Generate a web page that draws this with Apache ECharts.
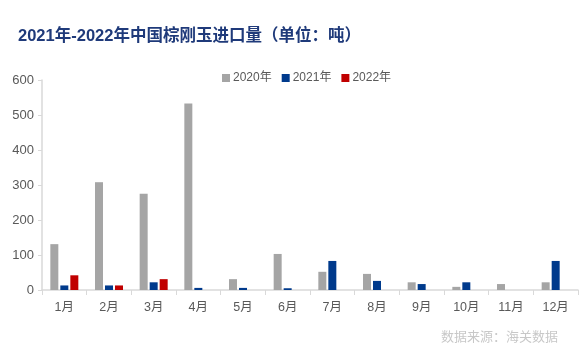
<!DOCTYPE html>
<html>
<head>
<meta charset="utf-8">
<style>
  html, body { margin: 0; padding: 0; background: #fff; }
  #chart { width: 588px; height: 351px; }
</style>
<script src="https://cdn.jsdelivr.net/npm/echarts@6/dist/echarts.min.js"></script>
</head>
<body>
<div id="chart"></div>
<script>
// 月份
const months = ['1月', '2月', '3月', '4月', '5月', '6月', '7月', '8月', '9月', '10月', '11月', '12月']
// 进口量（吨）
const data2020 = [131, 308, 275, 533, 31, 103, 52, 46, 22, 9, 17, 22]
const data2021 = [13, 13, 22, 6, 6, 5, 83, 26, 17, 22, 0, 83]
const data2022 = [42, 13, 31, null, null, null, null, null, null, null, null, null]
const yTicks = [0, 100, 200, 300, 400, 500, 600]

const labelFont = 'Arial, "Liberation Sans", "Noto Sans CJK SC", sans-serif'

let myChart = echarts.init(document.getElementById('chart'))
let option = {
  animation: false,
  title: [
    {
      text: '2021年-2022年中国棕刚玉进口量（单位：吨）',
      left: 13,
      top: 23,
      textStyle: { color: '#1F3A7A', fontSize: 16.5, fontWeight: 'bold', fontFamily: labelFont },
    },
    {
      text: '数据来源：海关数据',
      right: 25,
      top: 326,
      textStyle: { color: '#C8C8C8', fontSize: 13, fontWeight: 'normal', fontFamily: labelFont },
    },
  ],
  legend: {
    top: 67,
    left: 217,
    itemWidth: 8,
    itemHeight: 8,
    itemGap: 10,
    icon: 'rect',
    textStyle: { color: '#595959', fontSize: 12, fontFamily: labelFont, padding: [0, 0, 0, -2] },
    data: ['2020年', '2021年', '2022年'],
  },
  grid: { left: 42, right: 10, top: 80, bottom: 61 },
  xAxis: {
    type: 'category',
    data: months,
    axisLine: { lineStyle: { color: '#D9D9D9', width: 1.5 } },
    axisTick: { show: true, length: 5, lineStyle: { color: '#D9D9D9' } },
    axisLabel: { color: '#595959', fontSize: 12.5, margin: 11, fontFamily: labelFont },
  },
  yAxis: {
    type: 'value',
    min: yTicks[0],
    max: yTicks[yTicks.length - 1],
    interval: 100,
    splitLine: { show: false },
    axisLine: { show: true, lineStyle: { color: '#D9D9D9', width: 1.5 } },
    axisTick: { show: true, length: 4, lineStyle: { color: '#D9D9D9' } },
    axisLabel: { color: '#595959', fontSize: 13, margin: 8, fontFamily: labelFont },
  },
  series: [
    {
      name: '2020年', type: 'bar', data: data2020, barWidth: 8, barGap: '25%',
      itemStyle: { color: '#A5A5A5' },
    },
    {
      name: '2021年', type: 'bar', data: data2021, barWidth: 8, barGap: '25%',
      itemStyle: { color: '#003A8C' },
    },
    {
      name: '2022年', type: 'bar', data: data2022, barWidth: 8, barGap: '25%',
      itemStyle: { color: '#C00000' },
    },
  ],
}
myChart.setOption(option)
</script>
</body>
</html>
